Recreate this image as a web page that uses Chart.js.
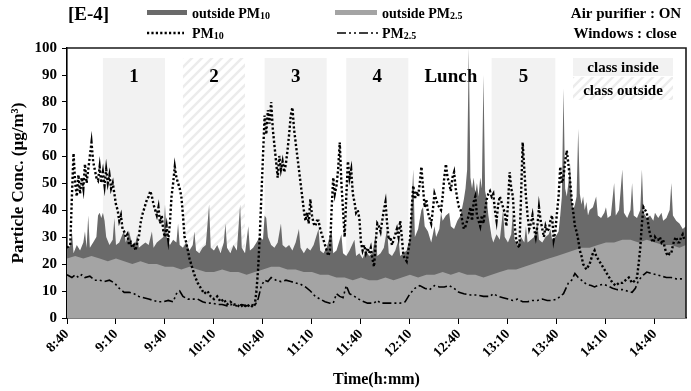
<!DOCTYPE html>
<html>
<head>
<meta charset="utf-8">
<script src="https://cdn.jsdelivr.net/npm/chart.js@4.4.1/dist/chart.umd.min.js"></script>
<style>
html,body{margin:0;padding:0;background:#fff;}
#wrap{width:691px;height:391px;}
</style>
</head>
<body>
<div id="wrap"><canvas id="c" width="691" height="391"></canvas></div>
<script>
// ---- DATA (minutes after 8:40) ----
const tickLabels = ["8:40","9:10","9:40","10:10","10:40","11:10","11:40","12:10","12:40","13:10","13:40","14:10","14:40"];

const outPM25Times = [0,5,10,15,20,25,30,35,40,45,50,55,60,65,70,75,80,85,90,95,100,105,110,115,120,125,130,135,140,145,150,155,160,165,170,175,180,185,190,195,200,205,210,215,220,225,230,235,240,245,250,255,260,265,270,275,280,285,290,295,300,305,310,315,320,325,330,335,340,345,350,355,360,365,370,375,379];
const outPM25Values = [22,23,22,23,22,21,22,21,20,21,20,20,19,19,18,19,18,17,17,18,17,17,16,17,18,19,19,18,18,17,17,16,16,15,15,14,15,14,14,15,14,15,16,15,16,16,17,16,17,16,16,15,16,17,18,18,19,20,21,22,23,24,25,26,26,27,28,28,29,29,28,29,28,27,27,26,27];

const outPM10Times = [0,2,3,4,6,8,10,11,12,13,14,16,18,19,20,21,22,23,24,26,28,29,30,32,34,35,36,38,40,42,43,44,46,48,50,52,53,55,57,59,60,61,63,65,67,68,69,71,73,75,77,78,79,81,83,85,87,88,90,92,94,96,97,98,100,102,104,106,107,109,111,112,114,116,118,120,121,122,123,125,127,129,131,132,134,136,138,140,142,143,145,147,149,151,154,155,157,159,162,163,165,168,169,171,173,176,177,179,181,183,185,187,189,190,192,194,196,197,199,201,203,204,206,208,210,212,213,215,217,218,219,221,223,225,226,228,229,230,232,234,235,237,239,241,243,244,245,246,247,248,249,250,251,252,253,254,255,256,257,258,259,260,261,263,265,267,268,270,272,273,274,276,278,280,281,282,284,286,288,289,291,293,295,296,297,299,301,302,303,304,305,306,307,308,309,310,311,312,313,314,315,316,317,318,319,320,322,324,325,327,329,330,331,333,335,336,338,340,341,343,345,346,347,349,351,352,353,355,357,359,360,362,364,365,367,369,370,371,373,375,377,379];
const outPM10Values = [25,27,32,24,27,25,28,32,26,38,26,28,30,38,39,37,39,36,30,27,29,37,27,28,31,32,28,32,27,28,31,26,27,28,27,32,26,28,29,30,42,30,27,29,28,35,27,26,28,25,27,32,25,24,26,27,42,26,25,27,24,28,35,26,24,27,25,42,26,24,34,25,26,28,30,29,38,37,30,27,26,28,35,27,26,27,25,28,33,26,24,26,25,27,33,25,24,26,33,24,25,31,24,23,25,29,23,24,22,25,23,24,31,23,24,26,33,24,23,25,29,23,24,25,30,55,30,33,40,41,34,32,28,34,30,33,39,36,38,39,34,33,36,38,44,48,55,100,52,48,52,46,50,45,52,48,90,47,44,38,34,30,28,31,29,40,30,28,31,39,29,27,30,28,34,28,29,30,35,29,28,30,31,33,29,30,32,38,45,85,48,45,50,57,44,40,42,45,70,46,42,45,40,43,38,40,41,45,38,37,39,41,37,38,50,38,40,55,39,37,40,50,38,37,40,55,39,37,38,36,39,37,39,36,37,40,50,38,36,35,33,34];

const pm10Times = [0,2,3,4,5,6,7,8,9,10,11,12,13,14,15,16,17,18,19,20,21,22,23,24,25,26,27,28,29,30,31,32,33,34,35,36,37,38,39,40,41,42,43,44,45,46,47,48,49,50,51,52,53,54,55,56,57,58,59,60,61,62,63,64,65,66,67,68,69,70,71,72,73,74,75,76,78,80,82,84,86,88,90,92,94,96,98,100,102,104,106,108,110,112,114,115,116,117,118,119,120,121,122,123,124,125,126,127,128,129,130,131,132,133,134,135,136,137,138,139,140,141,142,143,144,145,146,147,148,149,150,151,152,153,154,155,156,157,158,159,160,161,162,163,164,165,166,167,168,169,170,171,172,173,174,175,176,177,178,179,180,181,182,183,184,185,186,187,188,189,190,191,192,193,194,195,196,197,198,199,200,201,202,203,204,205,206,207,208,209,210,211,212,213,214,215,216,217,218,219,220,221,222,223,224,225,226,227,228,229,230,231,232,233,234,235,236,237,238,239,240,241,242,243,244,245,246,247,248,249,250,251,252,253,254,255,256,257,258,259,260,261,262,263,264,265,266,267,268,269,270,271,272,273,274,275,276,277,278,279,280,281,282,283,284,285,286,287,288,289,290,291,292,293,294,295,296,297,298,299,300,301,302,303,304,305,306,307,308,309,310,311,312,313,314,315,316,317,318,319,320,321,322,323,324,325,326,327,328,330,332,334,336,338,340,342,344,346,348,349,350,351,352,353,354,355,356,357,358,359,360,361,362,363,364,365,366,367,368,369,370,371,372,373,374,375,376,377,378];
const pm10Values = [26,27,45,61,50,45,53,46,52,48,57,50,55,60,65,58,55,52,51,56,50,54,49,55,50,53,48,50,46,42,40,36,38,33,32,30,31,27,28,26,27,25,28,30,35,38,40,42,44,45,47,45,42,40,38,41,35,38,32,30,34,29,35,45,50,56,52,50,48,45,38,30,28,25,22,20,16,13,11,9,10,8,7,8,6,7,5,6,5,5,4,5,4,5,4,5,10,18,30,45,60,75,68,77,72,80,70,64,58,52,60,55,58,54,57,62,68,75,78,70,65,60,55,50,45,40,36,39,35,44,38,35,34,36,36,33,31,29,27,25,23,25,40,52,46,49,55,65,50,40,30,45,58,52,55,46,43,39,40,37,28,25,27,24,26,24,26,22,19,28,35,34,32,36,40,43,35,29,30,27,29,31,33,30,36,30,23,22,21,25,29,40,49,44,47,45,50,56,48,41,44,39,37,35,40,46,44,42,41,40,45,52,57,52,50,47,52,54,48,44,41,40,36,33,34,36,38,41,36,43,45,38,36,34,38,35,40,44,46,47,45,46,40,36,42,45,43,41,39,34,42,54,48,45,35,29,27,26,45,65,55,45,38,33,35,38,33,30,34,41,36,33,30,34,32,33,36,38,29,32,39,45,56,50,52,58,62,57,51,44,39,34,32,29,25,23,20,19,18,19,20,22,24,25,23,22,21,20,19,17,15,13,12,13,13,14,15,13,14,15,20,26,35,41,40,39,34,31,29,28,30,29,29,30,28,29,26,24,23,24,24,27,29,30,28,28,30,31,29];

const pm25Times = [0,3,5,7,9,11,14,17,20,23,26,29,32,35,38,41,44,47,50,53,56,59,62,65,67,69,71,74,77,80,83,86,89,92,95,98,101,104,107,110,113,115,117,119,121,123,125,128,131,134,137,140,143,146,149,152,155,158,161,163,165,167,169,171,173,176,180,184,188,190,192,196,200,204,207,210,213,216,219,222,225,228,231,234,237,240,243,247,251,255,259,261,264,267,270,273,276,279,282,285,288,291,294,297,300,302,304,307,309,311,313,315,318,321,323,325,328,331,334,337,340,343,346,348,350,353,355,358,361,364,367,370,373,376,378];
const pm25Values = [16,15,16,15,16,15,15.5,14,14,13.5,14,13,11,9.5,9.5,9,8,7.5,7,6.5,6,6,6.5,6,9,10,8,7,7,7,6,5.5,5.5,5,5,4.5,5,4.5,5,4.5,5,4.5,7,12,14,13.5,15,14,13.5,14,13.5,13,12.5,11.5,10,8,7,6,5.5,5.5,9,8,7.5,12,9,8,6.5,5.5,5.5,6.5,5.5,5.5,5.5,5.5,6,9,11,12,11,10.5,12,11.5,11.5,12,11,9.5,9,8.5,8.5,8,8,9,8,7.5,7,6.5,7,6,6,6.5,6.5,7,6.5,6.5,7,8,9,13,14,16.5,15,14,12.5,12,11.5,12,12.5,12,11,10.5,10.5,10,9.5,11,14,16,17,16.5,16,15.5,15,15,14.5,14.5,14.5];

const classStart = [22, 71, 121, 171, 260];
const classEnd   = [60, 109, 159, 209, 299];
const classNames = ["1", "2", "3", "4", "5"];
const classKind  = ["inside", "outside", "inside", "inside", "inside"];
const lunchLabel = "Lunch";
const lunchAt = 235;

// ---- helpers ----
const xy = (ts, vs) => ts.map((t, i) => ({x: t, y: vs[i]}));
const SERIF = '"Liberation Serif", "Times New Roman", serif';

function hatchPattern(ctx) {
  const c = document.createElement('canvas');
  c.width = 10; c.height = 10;
  const g = c.getContext('2d');
  g.strokeStyle = '#ececec';
  g.lineWidth = 2.5;
  g.beginPath();
  g.moveTo(-2, 12); g.lineTo(12, -2);
  g.moveTo(-7, 7); g.lineTo(7, -7);
  g.moveTo(3, 17); g.lineTo(17, 3);
  g.stroke();
  return ctx.createPattern(c, 'repeat');
}

const classPlugin = {
  id: 'classes',
  beforeDatasetsDraw(chart) {
    const {ctx, chartArea: a, scales: {x}} = chart;
    const top = a.top + 10;
    const hatch = hatchPattern(ctx);
    ctx.save();
    for (let i = 0; i < classStart.length; i++) {
      const x0 = x.getPixelForValue(classStart[i]);
      const x1 = x.getPixelForValue(classEnd[i]);
      ctx.fillStyle = classKind[i] === 'inside' ? '#f2f2f2' : hatch;
      ctx.fillRect(x0, top, x1 - x0, a.bottom - top);
    }
    // legend box
    const lx0 = a.right - 113, lx1 = a.right - 13;
    ctx.fillStyle = '#f2f2f2';
    ctx.fillRect(lx0, top, lx1 - lx0, 18);
    ctx.fillStyle = hatch;
    ctx.fillRect(lx0, top + 19, lx1 - lx0, 23);
    ctx.fillStyle = '#000';
    ctx.textAlign = 'center';
    ctx.textBaseline = 'middle';
    ctx.font = 'bold 15px ' + SERIF;
    ctx.fillText('class inside', (lx0 + lx1) / 2, top + 10);
    ctx.fillText('class outside', (lx0 + lx1) / 2, top + 33);
    ctx.font = 'bold 19px ' + SERIF;
    for (let i = 0; i < classStart.length; i++) {
      const xc = x.getPixelForValue((classStart[i] + classEnd[i]) / 2);
      ctx.fillText(classNames[i], xc, top + 19);
    }
    ctx.fillText(lunchLabel, x.getPixelForValue(lunchAt), top + 19);
    ctx.restore();
  },
  afterDraw(chart) {
    const {ctx, chartArea: a} = chart;
    ctx.save();
    ctx.strokeStyle = '#1a1a1a';
    ctx.lineWidth = 1.6;
    ctx.beginPath();
    ctx.moveTo(a.left, a.top); ctx.lineTo(a.right, a.top); ctx.lineTo(a.right, a.bottom);
    ctx.stroke();

    // header / legend
    ctx.fillStyle = '#000';
    ctx.textBaseline = 'middle';
    ctx.textAlign = 'left';
    ctx.font = 'bold 19px ' + SERIF;
    ctx.fillText('[E-4]', 68, 15);

    const ds = chart.data.datasets;
    function sub(x, y, main, s) {
      ctx.font = 'bold 14px ' + SERIF;
      ctx.fillText(main, x, y);
      const w = ctx.measureText(main).width;
      ctx.font = 'bold 10px ' + SERIF;
      ctx.fillText(s, x + w, y + 2);
    }
    ctx.fillStyle = ds[3].backgroundColor;
    ctx.fillRect(147, 10, 40, 5);
    ctx.fillStyle = ds[2].backgroundColor;
    ctx.fillRect(335, 10, 42, 5);
    ctx.fillStyle = '#000';
    sub(192, 14, 'outside PM', '10');
    sub(382, 14, 'outside PM', '2.5');
    sub(192, 34, 'PM', '10');
    sub(382, 34, 'PM', '2.5');
    ctx.strokeStyle = '#000';
    ctx.lineWidth = ds[0].borderWidth;
    ctx.setLineDash(ds[0].borderDash);
    ctx.beginPath(); ctx.moveTo(147, 33); ctx.lineTo(184, 33); ctx.stroke();
    ctx.lineWidth = ds[1].borderWidth;
    ctx.setLineDash(ds[1].borderDash);
    ctx.beginPath(); ctx.moveTo(337, 33); ctx.lineTo(378, 33); ctx.stroke();
    ctx.setLineDash([]);

    ctx.textAlign = 'center';
    ctx.font = 'bold 15px ' + SERIF;
    ctx.fillText('Air purifier : ON', 626, 14);
    ctx.fillText('Windows : close', 625, 34);
    ctx.restore();
  }
};

new Chart(document.getElementById('c'), {
  type: 'line',
  data: {
    datasets: [
      {label: 'PM10', data: xy(pm10Times, pm10Values), borderColor: '#000', borderWidth: 2.4,
       borderDash: [2.2, 2.2], pointRadius: 0, tension: 0, fill: false},
      {label: 'PM2.5', data: xy(pm25Times, pm25Values), borderColor: '#000', borderWidth: 1.6,
       borderDash: [9, 3, 2, 3, 2, 3], pointRadius: 0, tension: 0, fill: false},
      {label: 'outside PM2.5', data: xy(outPM25Times, outPM25Values), borderWidth: 0,
       backgroundColor: '#a4a4a4', borderColor: '#a4a4a4', pointRadius: 0, tension: 0, fill: 'origin'},
      {label: 'outside PM10', data: xy(outPM10Times, outPM10Values), borderWidth: 0,
       backgroundColor: '#6a6a6a', borderColor: '#6a6a6a', pointRadius: 0, tension: 0, fill: 'origin'}
    ]
  },
  options: {
    responsive: false,
    animation: false,
    layout: {padding: {top: 48, right: 5, left: 0, bottom: 0}},
    plugins: {legend: {display: false}, tooltip: {enabled: false}},
    scales: {
      x: {
        type: 'linear', min: 0, max: 379,
        border: {display: true, color: '#000', width: 1.6},
        grid: {display: true, drawOnChartArea: false, drawTicks: true, tickLength: 6, color: '#000'},
        ticks: {stepSize: 30, includeBounds: false, autoSkip: false, minRotation: 45, maxRotation: 45,
          padding: 2, color: '#000', font: {family: SERIF, size: 14, weight: 'bold'},
          callback: (v) => tickLabels[Math.round(v / 30)]},
        title: {display: true, text: 'Time(h:mm)', color: '#000', padding: {top: 0, bottom: 2},
          font: {family: SERIF, size: 16, weight: 'bold'}},
        afterFit(s) { s.height = 73; s.paddingLeft = 0; s.paddingRight = 0; }
      },
      y: {
        min: 0, max: 100,
        border: {display: true, color: '#000', width: 1.6},
        grid: {display: true, drawOnChartArea: false, drawTicks: true, tickLength: 5, color: '#000'},
        ticks: {stepSize: 10, padding: 5, color: '#000', font: {family: SERIF, size: 15, weight: 'bold'}},
        title: {display: true, text: 'Particle Conc. (µg/m³)', color: '#000', padding: {top: 8, bottom: 0},
          font: {family: SERIF, size: 17, weight: 'bold'}},
        afterFit(s) { s.width = 67; s.paddingTop = 0; s.paddingBottom = 0; }
      }
    }
  },
  plugins: [classPlugin]
});
</script>
</body>
</html>
